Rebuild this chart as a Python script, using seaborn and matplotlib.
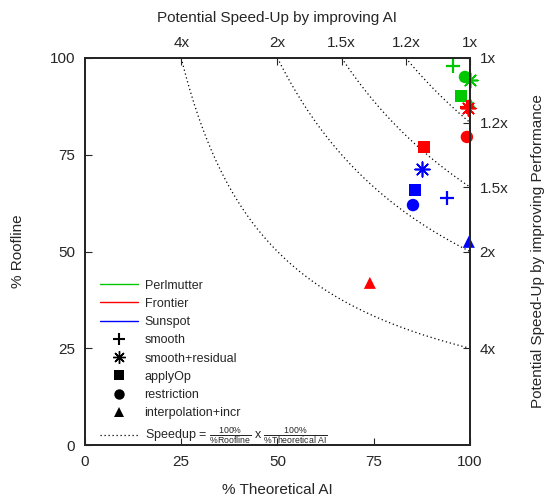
import numpy as np
import pandas as pd
import matplotlib
matplotlib.use("Agg")
import matplotlib.pyplot as plt
from matplotlib.lines import Line2D
import seaborn as sns

# ---- data ----
systems = ["Perlmutter", "Frontier", "Sunspot"]
kernels = ["smooth", "smooth+residual", "applyOp", "restriction", "interpolation+incr"]
perlmutter_ai = [95.6, 100.0, 97.7, 98.7, 100.0]
perlmutter_roof = [97.9, 94.3, 90.2, 95.1, 88.4]
frontier_ai = [99.3, 99.5, 88.0, 99.2, 74.0]
frontier_roof = [87.3, 87.1, 77.0, 79.6, 41.9]
sunspot_ai = [94.0, 87.5, 85.7, 85.2, 99.7]
sunspot_roof = [63.8, 71.3, 65.9, 62.0, 52.5]
speedup_levels = [1.2, 1.5, 2, 4]
speedup_ticks = [1, 1.2, 1.5, 2, 4]
speedup_labels = ["1x", "1.2x", "1.5x", "2x", "4x"]
x_ticks = [0, 25, 50, 75, 100]

colors = {"Perlmutter": "#00c800", "Frontier": "#ff0000", "Sunspot": "#0000ff"}
markers = {"smooth": "+", "smooth+residual": (8, 2, 0), "applyOp": "s",
           "restriction": "o", "interpolation+incr": "^"}
sizes = {"smooth": 110, "smooth+residual": 110, "applyOp": 70,
         "restriction": 80, "interpolation+incr": 75}

rows = []
for sysname, xs, ys in [("Perlmutter", perlmutter_ai, perlmutter_roof),
                        ("Frontier", frontier_ai, frontier_roof),
                        ("Sunspot", sunspot_ai, sunspot_roof)]:
    for k, xv, yv in zip(kernels, xs, ys):
        rows.append({"system": sysname, "kernel": k, "ai": xv, "roof": yv})
df = pd.DataFrame(rows)

sns.set_theme(style="ticks")
plt.rcParams["font.family"] = ["Liberation Sans", "DejaVu Sans"]
plt.rcParams["mathtext.fontset"] = "custom"
plt.rcParams["mathtext.rm"] = "Liberation Sans"
plt.rcParams["mathtext.it"] = "Liberation Sans:italic"

fig = plt.figure(figsize=(5.5, 4.97), dpi=100)
ax = fig.add_axes([0.1545, 0.1046, 0.70, 0.7787])

# iso-speedup curves
for s in speedup_levels:
    xx = np.linspace(100.0 / s, 100.0, 200)
    ax.plot(xx, 10000.0 / (s * xx), color="black", lw=0.9, ls=(0, (1, 2.2)))

for sysname in systems:
    for k in kernels:
        sub = df[(df.system == sysname) & (df.kernel == k)]
        lw = {"smooth": 1.6, "smooth+residual": 1.2}.get(k, 0)
        sns.scatterplot(data=sub, x="ai", y="roof", color=colors[sysname],
                        marker=markers[k], s=sizes[k], linewidth=lw,
                        edgecolor=colors[sysname] if lw else "none",
                        legend=False, ax=ax, clip_on=False, zorder=3)

ax.set_xlim(0, 100)
ax.set_ylim(0, 100)
ax.set_xticks(x_ticks)
ax.set_yticks(x_ticks)
ax.set_xlabel("% Theoretical AI", fontsize=11, labelpad=10)
ax.set_ylabel("% Roofline", fontsize=11, labelpad=18)
ax.tick_params(direction="in", length=5, width=0.8, labelsize=11, pad=7,
               top=False, right=False)
for sp in ax.spines.values():
    sp.set_linewidth(1.2)
    sp.set_color("black")

axt = ax.twiny()
axt.set_xlim(0, 100)
axt.set_xticks([100.0 / s for s in speedup_ticks])
axt.set_xticklabels(speedup_labels)
axt.set_xlabel("Potential Speed-Up by improving AI", fontsize=11, labelpad=10)
axt.tick_params(direction="in", length=5, width=0.8, labelsize=11, pad=6)

axr = ax.twinx()
axr.set_ylim(0, 100)
axr.set_yticks([100.0 / s for s in speedup_ticks])
axr.set_yticklabels(speedup_labels)
axr.set_ylabel("Potential Speed-Up by improving Performance", fontsize=11, labelpad=16)
axr.tick_params(direction="in", length=5, width=0.8, labelsize=11, pad=7)

handles = []
labels = []
for sysname in systems:
    handles.append(Line2D([], [], color=colors[sysname], lw=1.0))
    labels.append(sysname)
for k in kernels:
    lw = {"smooth": 1.5, "smooth+residual": 1.0}.get(k, 0)
    handles.append(Line2D([], [], color="black", marker=markers[k], ls="none",
                          markersize=9 if lw else 7.5, markeredgewidth=lw))
    labels.append(k)
handles.append(Line2D([], [], color="black", lw=0.9, ls=(0, (1, 2.2))))
labels.append(r"Speedup = $\frac{100\%}{\%\mathrm{Roofline}}$ x "
              r"$\frac{100\%}{\%\mathrm{Theoretical\ AI}}$")

leg = ax.legend(handles, labels, loc="lower left", bbox_to_anchor=(0.02, -0.022),
                frameon=False, fontsize=9, handlelength=3.0, handletextpad=0.55,
                labelspacing=0.5, borderaxespad=0.2)
leg.set_zorder(5)

fig.savefig("out.png", dpi=100)
